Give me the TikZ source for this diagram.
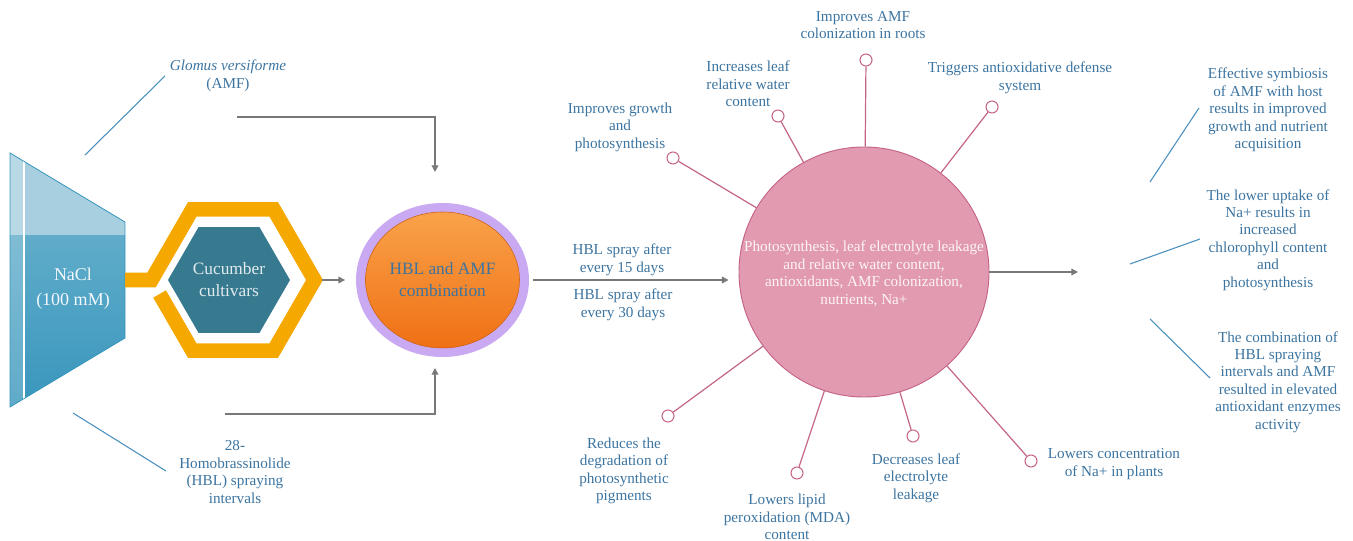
\documentclass[tikz,border=0pt]{standalone}
\usepackage{fontspec}
\setmainfont{Liberation Serif}
\usepackage{xcolor}
\usepackage{tikz}
\usetikzlibrary{shapes.geometric,arrows.meta,positioning,calc}

\definecolor{labelblue}{RGB}{60,116,160}
\definecolor{lineblue}{RGB}{74,144,190}
\definecolor{saltlight}{RGB}{168,207,224}
\definecolor{saltmid}{RGB}{96,172,202}
\definecolor{saltdark}{RGB}{56,150,188}
\definecolor{ringorange}{RGB}{245,168,0}
\definecolor{cuketeal}{RGB}{55,122,143}
\definecolor{lavender}{RGB}{201,169,242}
\definecolor{combotop}{RGB}{249,162,74}
\definecolor{combobot}{RGB}{240,112,20}
\definecolor{pinkfill}{RGB}{226,154,176}
\definecolor{pinkedge}{RGB}{196,100,134}
\definecolor{flowgray}{RGB}{120,120,120}

\begin{document}
\begin{tikzpicture}[x=0.75pt,y=-0.75pt,
    infotext/.style={text=labelblue,align=center,font=\fontsize{11.4}{13.1}\selectfont,inner sep=1pt},
    flow/.style={draw=flowgray,line width=1pt,-{Triangle[length=5pt,width=5pt]}},
    lead/.style={draw=lineblue,line width=0.8pt},
    spoke/.style={draw=pinkedge,line width=0.9pt},
    tipdot/.style={circle,draw=pinkedge,fill=white,line width=0.8pt,minimum size=9pt,inner sep=0pt}]
    \useasboundingbox (0,0) rectangle (1353,541);

    % NaCl trough
    \begin{scope}
        \clip (10,153) -- (125,222) -- (125,338) -- (10,407) -- cycle;
        \shade[top color=saltmid,bottom color=saltdark] (10,235) rectangle (125,407);
        \fill[saltlight] (10,153) rectangle (125,235);
        \fill[white,opacity=0.2] (10,153) rectangle (24,407);
        \draw[white,line width=0.8pt] (24,153) -- (24,407);
    \end{scope}
    \draw[saltdark,line width=0.6pt] (10,153) -- (125,222) -- (125,338) -- (10,407) -- cycle;
    \node[text=white!92!saltmid,align=center,font=\fontsize{13.5}{18.5}\selectfont] (salt) at (73,289) {NaCl\\(100 mM)};

    % Cucumber hexagon
    \draw[ringorange,line width=11pt,line join=miter] (159.6,294) -- (192.25,350.6) -- (273.75,350.6) -- (314.5,280) -- (273.75,209.4) -- (192.25,209.4) -- (151.5,280) -- (125,280);
    \node[regular polygon,regular polygon sides=6,fill=cuketeal,minimum size=91.5pt,inner sep=0pt,
        text=white!85!cuketeal,align=center,font=\fontsize{13}{16.5}\selectfont] (cucumber) at (229,280) {Cucumber\\cultivars};

    % Treatment inputs
    \draw[lead] (85,155) -- (165,76);
    \node[infotext] (amf) at (228,76) {\textit{Glomus versiforme}\\(AMF)};
    \draw[lead] (73,413) -- (166,471);
    \node[infotext] (hbl) at (235,472) {28-\\Homobrassinolide\\(HBL) spraying\\intervals};

    % Combination
    \node[ellipse,fill=lavender,minimum width=129.75pt,minimum height=115.5pt,inner sep=0pt] (comboring) at (442.5,280) {};
    \node[ellipse,top color=combotop,bottom color=combobot,draw=combobot!85!black,line width=0.4pt,
        minimum width=115.5pt,minimum height=102pt,inner sep=0pt,
        text=labelblue,align=center,font=\fontsize{13}{16.5}\selectfont] (combo) at (comboring) {HBL and AMF\\combination};

    \coordinate (ringtip) at (322,280);
    \draw[flow,shorten >=8pt] (ringtip) -- (comboring);
    \coordinate (amfstart) at (237,117);
    \coordinate (amftip) at (435,172);
    \draw[flow] (amfstart) -| (amftip);
    \coordinate (hblstart) at (225,414);
    \coordinate (hbltip) at (435,368);
    \draw[flow] (hblstart) -| (hbltip);

    % Responses
    \node[circle,fill=pinkfill,draw=pinkedge,line width=0.7pt,minimum size=187.5pt,inner sep=0pt] (res) at (864,272) {};
    \node[text=white!90!pinkfill,align=center,font=\fontsize{11.4}{13.1}\selectfont] (restext) at (864,274)
        {Photosynthesis, leaf electrolyte leakage\\and relative water content,\\antioxidants, AMF colonization,\\nutrients, Na+};

    \draw[flow,shorten <=3pt,shorten >=7.5pt] (comboring.east) -- (comboring.east -| res.west);
    \node[infotext] (spray15) at (622,260) {HBL spray after\\every 15 days};
    \node[infotext] (spray30) at (623,305) {HBL spray after\\every 30 days};

    % Spokes
    \node[tipdot] (dgrowth) at (673,158) {};
    \draw[spoke] (res) -- (dgrowth);
    \node[infotext] (growth) at (620,127) {Improves growth\\and\\photosynthesis};
    \node[tipdot] (dwater) at (778,116) {};
    \draw[spoke] (res) -- (dwater);
    \node[infotext] (water) at (748,84) {Increases leaf\\relative water\\content};
    \node[tipdot] (droots) at (866,60) {};
    \draw[spoke] (res) -- (droots);
    \node[infotext] (roots) at (863,25) {Improves AMF\\colonization in roots};
    \node[tipdot] (ddefense) at (992,107) {};
    \draw[spoke] (res) -- (ddefense);
    \node[infotext] (defense) at (1020,78) {Triggers antioxidative defense\\system};
    \node[tipdot] (dpigment) at (668,416) {};
    \draw[spoke] (res) -- (dpigment);
    \node[infotext] (pigment) at (624,471) {Reduces the\\degradation of\\photosynthetic\\pigments};
    \node[tipdot] (dlipid) at (797,473) {};
    \draw[spoke] (res) -- (dlipid);
    \node[infotext] (lipid) at (787,517) {Lowers lipid\\peroxidation (MDA)\\content};
    \node[tipdot] (dleak) at (913,436) {};
    \draw[spoke] (res) -- (dleak);
    \node[infotext] (leak) at (916,478) {Decreases leaf\\electrolyte\\leakage};
    \node[tipdot] (dsodium) at (1031,461) {};
    \draw[spoke] (res) -- (dsodium);
    \node[infotext] (sodium) at (1114,464) {Lowers concentration\\of Na+ in plants};

    % Outcomes
    \coordinate (outtip) at (1078,272);
    \draw[flow] (res) -- (outtip);
    \draw[lead] (1150,182) -- (1199,108);
    \node[infotext] (symbiosis) at (1268,110) {Effective symbiosis\\of AMF with host\\results in improved\\growth and nutrient\\acquisition};
    \draw[lead] (1130,264) -- (1200,239);
    \node[infotext] (uptake) at (1268,240) {The lower uptake of\\Na+ results in\\increased\\chlorophyll content\\and\\photosynthesis};
    \draw[lead] (1150,319) -- (1210,378);
    \node[infotext] (enzymes) at (1278,382) {The combination of\\HBL spraying\\intervals and AMF\\resulted in elevated\\antioxidant enzymes\\activity};
\end{tikzpicture}
\end{document}
